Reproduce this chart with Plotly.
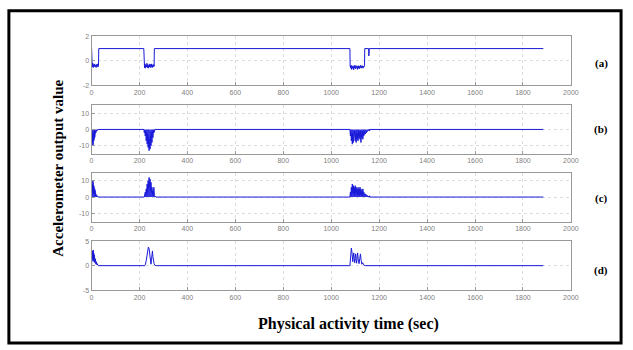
import plotly.graph_objects as go

# ---------------- data ----------------
x_ticks = [0, 200, 400, 600, 800, 1000, 1200, 1400, 1600, 1800, 2000]
x_tick_labels = ["0", "200", "400", "600", "800", "1000", "1200", "1400", "1600", "1800", "2000"]

# (a) step-like output
a_time = [0, 1, 3, 5, 7, 9, 11, 13, 15, 17, 19, 21, 23, 25, 27, 29, 30,
          218, 219, 221, 223, 225, 227, 229, 231, 233, 235, 237, 239, 241, 243, 245, 247, 249, 251, 253, 255, 257, 259, 261, 262,
          1078, 1079, 1081, 1083, 1085, 1087, 1089, 1091, 1093, 1095, 1097, 1099, 1101, 1103, 1105, 1107, 1109, 1111, 1113,
          1115, 1117, 1119, 1121, 1123, 1125, 1127, 1129, 1131, 1133, 1135, 1137, 1139, 1140,
          1156, 1157, 1158, 1159, 1885]
a_vals = [1.1, -0.3, -0.5, -0.2, -0.55, -0.3, -0.45, -0.25, -0.5, -0.35, -0.55, -0.3, -0.45, -0.25, -0.5, -0.35, 1.0,
          1.0, -0.3, -0.55, -0.25, -0.6, -0.35, -0.5, -0.2, -0.55, -0.3, -0.6, -0.35, -0.5, -0.25, -0.55, -0.3, -0.5, -0.25, -0.55, -0.35, -0.5, -0.3, -0.45, 1.0,
          1.0, -0.4, -0.6, -0.35, -0.7, -0.45, -0.6, -0.4, -0.75, -0.45, -0.6, -0.35, -0.65, -0.45, -0.55, -0.4, -0.7, -0.45, -0.6,
          -0.4, -0.65, -0.45, -0.55, -0.35, -0.6, -0.45, -0.55, -0.4, -0.6, -0.45, -0.5, -0.4, 1.0,
          1.0, 0.4, 1.0, 1.0, 1.0]

# (b) negative bursts
b_time = [0, 1, 2, 3, 4, 5, 6, 7, 8, 9, 10, 11, 12, 13, 14, 15, 16, 18, 20, 22, 24, 30,
          218, 220, 222, 224, 226, 228, 230, 232, 234, 236, 238, 240, 242, 244, 246, 248, 250, 252, 254, 256, 258, 260, 265,
          1078, 1080, 1082, 1084, 1086, 1088, 1090, 1092, 1094, 1096, 1098, 1100, 1102, 1104, 1106, 1108, 1110, 1112, 1114,
          1116, 1118, 1120, 1122, 1124, 1126, 1128, 1130, 1132, 1134, 1136, 1138, 1140, 1158, 1160, 1162, 1885]
b_vals = [0, -6, -2, -8, -3, -10, -4, -9, -2, -7, -3, -6, -1, -5, -2, -3, -1, -2, -0.5, -1, -0.3, 0,
          0, -2, -0.5, -4, -1, -7, -2, -9, -3, -11, -5, -13, -6, -12, -4, -10, -2, -8, -1, -5, -0.5, -2, 0,
          0, -4, -2, -7, -3, -9, -2, -8, -4, -6, -1, -7, -3, -8, -2, -6, -3, -7, -1,
          -5, -2, -6, -1, -8, -3, -5, -1, -6, -2, -4, -1, -3, 0, -1, 0, 0]

# (c) positive bursts
c_time = [0, 1, 2, 3, 4, 5, 6, 7, 8, 9, 10, 11, 12, 13, 14, 15, 16, 18, 20, 22, 24, 30,
          220, 222, 224, 226, 228, 230, 232, 234, 236, 238, 240, 242, 244, 246, 248, 250, 252, 254, 256, 258, 260, 262, 268,
          1078, 1080, 1082, 1084, 1086, 1088, 1090, 1092, 1094, 1096, 1098, 1100, 1102, 1104, 1106, 1108, 1110, 1112, 1114,
          1116, 1118, 1120, 1122, 1124, 1126, 1128, 1130, 1132, 1134, 1136, 1138, 1140, 1158, 1160, 1162, 1885]
c_vals = [0, 5, 2, 8, 3, 10, 4, 9, 2, 7, 3, 6, 2, 5, 1, 4, 1, 2, 0.5, 1, 0.3, 0,
          0, 1, 3, 1, 5, 2, 8, 3, 10, 5, 12, 6, 11, 4, 9, 3, 6, 2, 4, 1, 6, 1, 0,
          0, 3, 1, 6, 2, 8, 3, 7, 2, 6, 1, 7, 3, 6, 2, 5, 1, 6, 2,
          5, 1, 6, 2, 5, 1, 4, 1, 5, 2, 3, 1, 2, 0, 0.8, 0, 0]

# (d) smoothed envelope
d_time = [0, 1, 2, 3, 4, 5, 6, 7, 8, 9, 10, 12, 14, 16, 18, 20, 22, 24, 26, 30,
          222, 225, 228, 231, 234, 237, 240, 243, 246, 248, 250, 252, 254, 256, 258, 261, 264, 268,
          1078, 1080, 1082, 1084, 1086, 1088, 1090, 1092, 1094, 1096, 1098, 1100, 1102, 1104, 1106, 1108, 1110,
          1113, 1116, 1119, 1122, 1125, 1128, 1131, 1134, 1137, 1140, 1885]
d_vals = [0, 2.5, 1.0, 3.0, 1.5, 2.8, 1.0, 3.2, 1.2, 2.6, 0.8, 2.2, 0.6, 1.4, 0.3, 0.8, 0.2, 0.4, 0.1, 0,
          0, 0.3, 1.0, 2.2, 3.3, 3.8, 3.5, 2.6, 1.0, 0.3, 1.2, 2.8, 3.0, 1.8, 0.6, 0.4, 0.1, 0,
          0, 1.0, 2.2, 3.6, 3.0, 1.6, 0.8, 1.8, 2.6, 1.4, 0.6, 1.5, 2.4, 1.2, 0.5, 1.6, 2.6,
          1.2, 0.4, 1.4, 2.4, 1.0, 0.3, 0.6, 0.2, 0.1, 0, 0]

panels = [
    ("(a)", a_time, a_vals, [-2, 2], [-2, 0, 2], False),
    ("(b)", b_time, b_vals, [-15, 15], [-10, 0, 10], True),
    ("(c)", c_time, c_vals, [-15, 15], [-10, 0, 10], True),
    ("(d)", d_time, d_vals, [-5, 5], [-5, 0, 5], False),
]

# ---------------- layout ----------------
W, H = 633, 350
x_dom = [91 / W, 578 / W]
tops = [33, 103, 172, 242]
plot_h = 50
label_y = [61, 128, 198, 272]

fig = go.Figure()
layout = dict(
    width=W, height=H,
    margin=dict(l=0, r=0, t=0, b=0),
    paper_bgcolor="white", plot_bgcolor="white",
    showlegend=False,
    annotations=[], shapes=[],
)

for i, (lab, t, v, yr, yt, filled) in enumerate(panels):
    n = "" if i == 0 else str(i + 1)
    xa, ya = "x" + n, "y" + n
    fig.add_trace(go.Scatter(
        x=t, y=v, mode="lines", xaxis=xa, yaxis=ya,
        line=dict(color="#1a1ad8", width=1),
        fill="tozeroy" if filled else None,
        fillcolor="rgba(16,16,224,0.85)" if filled else None,
        hoverinfo="skip",
    ))
    top = tops[i]
    dom = [1 - (top + plot_h) / H, 1 - top / H]
    axis_common = dict(
        showline=True, linecolor="#999999", linewidth=1, mirror=True,
        showgrid=True, gridcolor="#dcdcdc", griddash="dot", gridwidth=1,
        zeroline=False, ticks="inside", ticklen=3, tickcolor="#999999",
        tickfont=dict(family="Liberation Sans, Arial", size=7, color="#808080"),
        fixedrange=True,
    )
    layout["xaxis" + n] = dict(
        axis_common, domain=x_dom, range=[0, 2000], anchor=ya,
        tickmode="array", tickvals=x_ticks, ticktext=x_tick_labels,
    )
    layout["yaxis" + n] = dict(
        axis_common, domain=dom, range=yr, anchor=xa,
        tickmode="array", tickvals=yt, ticktext=[str(k) for k in yt],
    )
    layout["annotations"].append(dict(
        text="<b>" + lab + "</b>", x=609 / W, y=1 - label_y[i] / H,
        xref="paper", yref="paper", showarrow=False,
        xanchor="center", yanchor="middle",
        font=dict(family="Liberation Serif, Times New Roman", size=11, color="black"),
    ))

layout["annotations"].append(dict(
    text="<b>Accelerometer output value</b>", x=57 / W, y=1 - 168 / H,
    xref="paper", yref="paper", showarrow=False, textangle=-90,
    xanchor="center", yanchor="middle",
    font=dict(family="Liberation Serif, Times New Roman", size=15, color="black"),
))
layout["annotations"].append(dict(
    text="<b>Physical activity time (sec)</b>", x=352 / W, y=1 - 327 / H,
    xref="paper", yref="paper", showarrow=False,
    xanchor="center", yanchor="middle",
    font=dict(family="Liberation Serif, Times New Roman", size=16, color="black"),
))
layout["shapes"].append(dict(
    type="rect", xref="paper", yref="paper",
    x0=7 / W, x1=629 / W, y0=1 - 346 / H, y1=1 - 7 / H,
    line=dict(color="black", width=3),
))

fig.update_layout(**layout)
fig.write_html(
    "out.html",
    config={"displayModeBar": False},
    post_script="document.body.style.margin='0';document.body.style.overflow='hidden';",
)
